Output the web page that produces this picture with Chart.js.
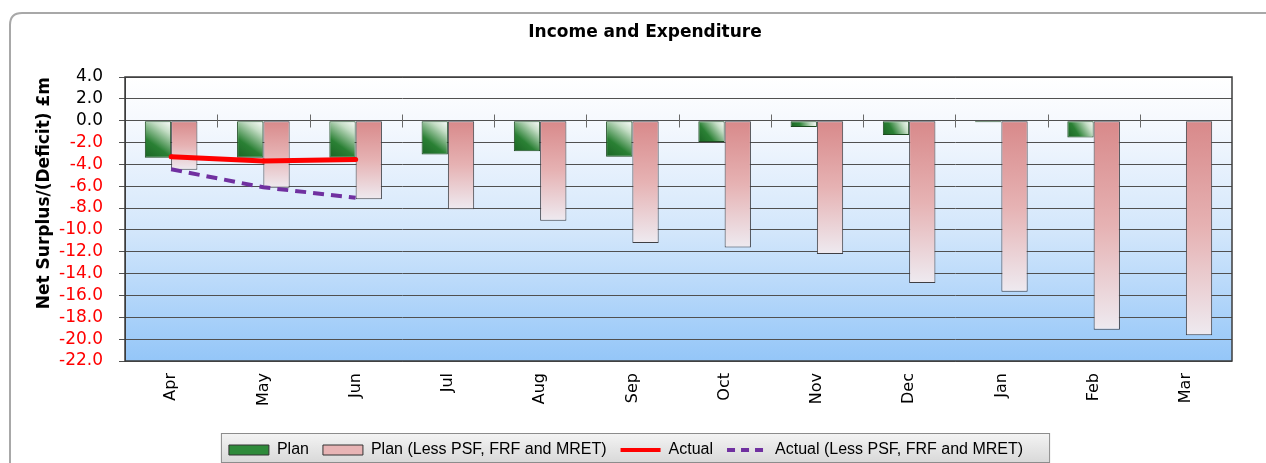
<!DOCTYPE html>
<html>
<head>
<meta charset="utf-8">
<title>Income and Expenditure</title>
<script src="https://cdn.jsdelivr.net/npm/chart.js@4.4.1/dist/chart.umd.min.js"></script>
<style>
  html, body { margin: 0; padding: 0; background: #ffffff; }
  #wrap { position: relative; width: 1266px; height: 463px; }
</style>
</head>
<body>
<div id="wrap"><canvas id="chart" width="1266" height="463"></canvas></div>
<script>
// Months of the financial year
const months = ['Apr', 'May', 'Jun', 'Jul', 'Aug', 'Sep', 'Oct', 'Nov', 'Dec', 'Jan', 'Feb', 'Mar'];

// Net surplus / (deficit), £m
const plan = [-3.4, -3.4, -3.4, -3.1, -2.8, -3.3, -1.95, -0.57, -1.3, -0.15, -1.55, 0];
const planLess = [-4.5, -6.15, -7.2, -8.1, -9.15, -11.2, -11.6, -12.2, -14.85, -15.65, -19.15, -19.65];
const actual = [-3.3, -3.7, -3.55, null, null, null, null, null, null, null, null, null];
const actualLess = [-4.45, -6.1, -7.05, null, null, null, null, null, null, null, null, null];

// Value axis range
const yMin = -22, yMax = 4, yStep = 2;

const FONT = "'DejaVu Sans', 'Liberation Sans', sans-serif";
const CAT_PCT = 0.57;

// Pixel extent of a bar, worked out from the scales
function barBox(chart, index, value, side) {
  const xs = chart.scales.x, ys = chart.scales.y;
  const cw = (xs.right - xs.left) / months.length;
  const bw = cw * CAT_PCT / 2;
  const xc = xs.getPixelForValue(index);
  const x0 = side < 0 ? xc - bw : xc;
  const y0 = ys.getPixelForValue(0), y1 = ys.getPixelForValue(value);
  return { x0, x1: x0 + bw, top: Math.min(y0, y1), bottom: Math.max(y0, y1) };
}

// Green bars: diagonal shade from dark green to white
function greenFill(ctx) {
  const chart = ctx.chart;
  if (!chart.chartArea || ctx.type !== 'data' || !chart.scales.x) return '#2e7d32';
  const b = barBox(chart, ctx.dataIndex, plan[ctx.dataIndex], -1);
  const g = chart.ctx.createLinearGradient(b.x0, b.bottom, b.x1, b.top);
  g.addColorStop(0, '#1a6424');
  g.addColorStop(0.35, '#2a8034');
  g.addColorStop(0.75, '#c4ddc5');
  g.addColorStop(1, '#ffffff');
  return g;
}

// Pink bars: vertical shade from rose at zero to near white at the end
function pinkFill(ctx) {
  const chart = ctx.chart;
  if (!chart.chartArea || ctx.type !== 'data' || !chart.scales.x) return '#e4a5a5';
  const b = barBox(chart, ctx.dataIndex, planLess[ctx.dataIndex], 1);
  const g = chart.ctx.createLinearGradient(0, b.top, 0, b.bottom);
  g.addColorStop(0, '#d8898a');
  g.addColorStop(0.5, '#e6b2b3');
  g.addColorStop(1, '#eeeaf0');
  return g;
}

// Frame, plot background, legend panel, axis cross-ticks and title
const decor = {
  id: 'decor',
  beforeDraw(chart) {
    const c = chart.ctx;
    const a = chart.chartArea;
    c.save();
    // outer rounded frame
    c.strokeStyle = '#a8a8a8';
    c.lineWidth = 2;
    const r = 12, fx = 10, fy = 13;
    c.beginPath();
    c.moveTo(fx, 480);
    c.lineTo(fx, fy + r);
    c.quadraticCurveTo(fx, fy, fx + r, fy);
    c.lineTo(1290, fy);
    c.stroke();
    // plot background gradient
    const g = c.createLinearGradient(0, a.top, 0, a.bottom);
    g.addColorStop(0, '#ffffff');
    g.addColorStop(0.15, '#f6f9fe');
    g.addColorStop(0.55, '#d2e6fb');
    g.addColorStop(1, '#94c6f8');
    c.fillStyle = g;
    c.fillRect(a.left, a.top, a.right - a.left, a.bottom - a.top);
    // legend panel behind the legend items
    const lg = chart.legend;
    if (lg && lg.legendHitBoxes && lg.legendHitBoxes.length) {
      const hb = lg.legendHitBoxes;
      const left = hb[0].left - 8;
      const right = hb[hb.length - 1].left + hb[hb.length - 1].width + 26;
      const top = 433, bottom = 462;
      const lgr = c.createLinearGradient(0, top, 0, bottom);
      lgr.addColorStop(0, '#f4f4f4');
      lgr.addColorStop(1, '#d9d9d9');
      c.fillStyle = lgr;
      c.fillRect(left, top, right - left, bottom - top);
      c.strokeStyle = '#8c8c8c';
      c.lineWidth = 1;
      c.strokeRect(left + 0.5, top + 0.5, right - left, bottom - top);
    }
    c.restore();
  },
  afterDatasetsDraw(chart) {
    const c = chart.ctx;
    const a = chart.chartArea;
    const x = chart.scales.x, y = chart.scales.y;
    c.save();
    // cross tick marks on the zero line between months
    const y0 = Math.round(y.getPixelForValue(0)) + 0.5;
    c.strokeStyle = '#6a6a6a';
    c.lineWidth = 1;
    for (let i = 1; i < months.length; i++) {
      const xb = Math.round((x.getPixelForValue(i - 1) + x.getPixelForValue(i)) / 2) + 0.5;
      c.beginPath();
      c.moveTo(xb, y0 - 7);
      c.lineTo(xb, y0 + 6);
      c.stroke();
    }
    // plot border
    c.strokeStyle = '#3c3c3c';
    c.lineWidth = 1.5;
    c.strokeRect(a.left, a.top, a.right - a.left, a.bottom - a.top);
    c.restore();
  },
  afterDraw(chart) {
    const c = chart.ctx;
    c.save();
    c.fillStyle = '#000000';
    c.font = "bold 17px " + FONT;
    c.textAlign = 'center';
    c.textBaseline = 'middle';
    c.fillText('Income and Expenditure', 645, 33);
    c.restore();
  }
};

// Legend swatch colours, in legend order
const legendOrder = [2, 3, 0, 1];
const legendFills = ['#2e8a3a', '#e8b4b5', '#ff0000', '#7030a0'];

new Chart(document.getElementById('chart'), {
  data: {
    labels: months,
    datasets: [
      {
        type: 'line',
        label: 'Actual',
        data: actual,
        borderColor: '#ff0000',
        backgroundColor: '#ff0000',
        borderWidth: 5,
        pointRadius: 2.5,
        pointBackgroundColor: '#ff0000',
        pointBorderWidth: 0,
        tension: 0,
        order: 1
      },
      {
        type: 'line',
        label: 'Actual (Less PSF, FRF and MRET)',
        data: actualLess,
        borderColor: '#7030a0',
        backgroundColor: '#7030a0',
        borderWidth: 4,
        borderDash: [11, 7],
        pointRadius: 0,
        tension: 0,
        order: 2
      },
      {
        type: 'bar',
        label: 'Plan',
        data: plan,
        backgroundColor: greenFill,
        borderColor: '#1d4a20',
        borderWidth: 1,
        borderSkipped: false,
        categoryPercentage: CAT_PCT,
        barPercentage: 1.0,
        order: 3
      },
      {
        type: 'bar',
        label: 'Plan (Less PSF, FRF and MRET)',
        data: planLess,
        backgroundColor: pinkFill,
        borderColor: '#3f3f44',
        borderWidth: 1,
        borderSkipped: false,
        categoryPercentage: CAT_PCT,
        barPercentage: 1.0,
        order: 3
      }
    ]
  },
  options: {
    responsive: false,
    animation: false,
    layout: { padding: { left: 20, right: 34, top: 77, bottom: -5 } },
    plugins: {
      title: { display: false },
      tooltip: { enabled: false },
      legend: {
        position: 'bottom',
        labels: {
          color: '#000000',
          font: { family: "'Liberation Sans Narrow', 'Liberation Sans', sans-serif", size: 16 },
          boxWidth: 40,
          boxHeight: 10,
          padding: 14,
          usePointStyle: true,
          pointStyleWidth: 40,
          generateLabels(chart) {
            return legendOrder.map((di, k) => {
              const ds = chart.data.datasets[di];
              const isLine = ds.type === 'line';
              return {
                text: ds.label,
                datasetIndex: di,
                fillStyle: legendFills[k],
                strokeStyle: isLine ? ds.borderColor : '#333333',
                lineWidth: isLine ? 4 : 1,
                lineDash: isLine && ds.borderDash ? [8, 6] : [],
                pointStyle: isLine ? 'line' : 'rect',
                hidden: false
              };
            });
          }
        }
      }
    },
    scales: {
      x: {
        grid: { display: false, drawTicks: false },
        border: { display: false },
        ticks: {
          color: '#000000',
          font: { family: FONT, size: 16 },
          minRotation: 90,
          maxRotation: 90,
          padding: 12,
          autoSkip: false
        },
        afterFit(scale) { scale.height = 67; }
      },
      y: {
        min: yMin,
        max: yMax,
        grid: { color: '#505050', lineWidth: 1, drawTicks: true, tickLength: 6 },
        border: { display: true, color: '#3c3c3c' },
        ticks: {
          stepSize: yStep,
          autoSkip: false,
          padding: 16,
          font: { family: FONT, size: 17 },
          color(ctx) { return ctx.tick && ctx.tick.value < 0 ? '#ff0000' : '#000000'; },
          callback(v) { return Number(v).toFixed(1); }
        },
        title: {
          display: true,
          text: 'Net Surplus/(Deficit) £m',
          align: 'end',
          color: '#000000',
          font: { family: FONT, size: 17, weight: 'bold' },
          padding: { top: 14, bottom: 0 }
        },
        afterFit(scale) { scale.width = 105; }
      }
    }
  },
  plugins: [decor]
});
</script>
</body>
</html>
